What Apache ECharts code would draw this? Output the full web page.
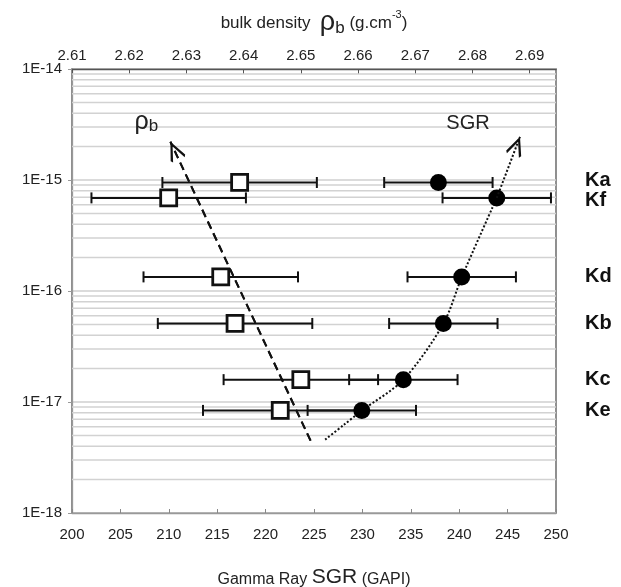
<!DOCTYPE html>
<html>
<head>
<meta charset="utf-8">
<script src="https://cdn.jsdelivr.net/npm/echarts@6.0.0/dist/echarts.min.js"></script>
<style>
html,body{margin:0;padding:0;background:#fff;}
#chart{width:621px;height:587px;}
</style>
</head>
<body>
<div id="chart"></div>
<script>
// ---- data ----
const samples      = ['Ka', 'Kf', 'Kd', 'Kb', 'Kc', 'Ke'];
const permeability = [9.5e-16, 6.9e-16, 1.34e-16, 5.1e-17, 1.59e-17, 8.4e-18];
const sgr          = [237.85, 243.88, 240.26, 238.36, 234.23, 229.94];      // GAPI (filled circles)
const sgrErr       = [5.6, 5.6, 5.6, 5.6, 5.6, 5.6];
const density      = [2.6393, 2.6269, 2.6360, 2.6385, 2.6500, 2.6464];      // g/cm3 (open squares)
const densityErr   = [0.0135, 0.0135, 0.0135, 0.0135, 0.0135, 0.0135];

// hand-drawn trend arrows
const rhoTrend = [[2.6517, 4.49e-18], [2.6272, 2.21e-15]];                  // density, permeability
const sgrTrend = [[226.15, 4.58e-18], [228.04, 6.18e-18], [229.94, 8.36e-18], [234.23, 1.59e-17],
                  [238.36, 5.07e-17], [240.26, 1.33e-16], [243.88, 6.89e-16], [246.28, 2.45e-15]];

// axes
const sgrMin = 200, sgrMax = 250, sgrStep = 5;
const densMin = 2.61, densMax = 2.6946, densStep = 0.01;
const densityTickLabels = ['2.61', '2.62', '2.63', '2.64', '2.65', '2.66', '2.67', '2.68', '2.69'];
const permTickLabels = ['1E-18', '1E-17', '1E-16', '1E-15', '1E-14'];
const permDecades = [1e-18, 1e-17, 1e-16, 1e-15];
const minorMultipliers = [2, 3, 4, 5, 6, 7, 8, 9];

// ---- chart ----
const FONT = 'Liberation Sans, Arial, sans-serif';
const minorVals = [];
permDecades.forEach(d => minorMultipliers.forEach(m => minorVals.push(m * d)));

// open chevron whose tip sits at the symbol centre (tiny dot above balances the box)
const chevron = 'path://M10,-19.2 L10.04,-19.2 L10,-19.16 Z M10,0 L20,17 L18,19.2 L10,5 L2,19.2 L0,17 Z';

function errBar(params, api) {
  const y = api.value(2);
  const a = api.coord([api.value(0), y]);
  const b = api.coord([api.value(1), y]);
  const h = 5.5;
  const st = {stroke: '#111', lineWidth: 2};
  return {type: 'group', children: [
    {type: 'line', shape: {x1: a[0], y1: a[1], x2: b[0], y2: b[1]}, style: st},
    {type: 'line', shape: {x1: a[0], y1: a[1] - h, x2: a[0], y2: a[1] + h}, style: st},
    {type: 'line', shape: {x1: b[0], y1: b[1] - h, x2: b[0], y2: b[1] + h}, style: st}
  ]};
}

const chart = echarts.init(document.getElementById('chart'), null, {renderer: 'canvas'});
chart.setOption({
  animation: false,
  backgroundColor: '#fff',
  textStyle: {fontFamily: FONT},
  grid: {left: 72, right: 65, top: 69, bottom: 74, containLabel: false, outerBoundsMode: 'none',
         show: true, borderColor: '#555', borderWidth: 1.3, backgroundColor: 'transparent'},
  xAxis: [{
    type: 'value', position: 'bottom', min: sgrMin, max: sgrMax, interval: sgrStep,
    axisLine: {show: true, lineStyle: {color: '#999', width: 1.3}},
    axisTick: {show: true, inside: true, length: 4, lineStyle: {color: '#888'}},
    axisLabel: {fontSize: 15, color: '#222', margin: 14, fontFamily: FONT},
    splitLine: {show: false},
    name: '{a|Gamma Ray }{b|SGR}{a| (GAPI)}',
    nameLocation: 'middle', nameGap: 52,
    nameTextStyle: {rich: {
      a: {fontSize: 16, color: '#222', fontFamily: FONT, verticalAlign: 'bottom', lineHeight: 23},
      b: {fontSize: 21, color: '#222', fontFamily: FONT, verticalAlign: 'bottom', lineHeight: 23}
    }}
  }, {
    type: 'value', position: 'top', min: densMin, max: densMax, interval: densStep,
    axisLine: {show: true, lineStyle: {color: '#555', width: 1.3}},
    axisTick: {show: true, inside: true, length: 5, lineStyle: {color: '#555'}},
    axisLabel: {fontSize: 15, color: '#222', margin: 6, fontFamily: FONT, showMaxLabel: false,
      formatter: v => densityTickLabels[Math.round((v - densMin) / densStep)] || ''},
    splitLine: {show: false},
    name: '{a|bulk density  }{r|ρ}{s|b}{a| (g.cm}{p|-3}{a|)}',
    nameLocation: 'middle', nameGap: 32,
    nameTextStyle: {rich: {
      a: {fontSize: 17, color: '#222', fontFamily: FONT, verticalAlign: 'middle', lineHeight: 28},
      r: {fontSize: 27, color: '#222', fontFamily: FONT, verticalAlign: 'middle', lineHeight: 28},
      s: {fontSize: 17, color: '#222', fontFamily: FONT, verticalAlign: 'bottom', lineHeight: 22},
      p: {fontSize: 11, color: '#222', fontFamily: FONT, verticalAlign: 'top', lineHeight: 22}
    }}
  }],
  yAxis: [{
    type: 'log', logBase: 10, min: 1e-18, max: 1e-14, splitNumber: 4,
    axisLine: {show: true, lineStyle: {color: '#999', width: 1.3}},
    axisTick: {show: true, inside: false, length: 4, lineStyle: {color: '#999'}},
    axisLabel: {fontSize: 15, color: '#222', margin: 10, fontFamily: FONT,
      formatter: v => permTickLabels[Math.round(Math.log10(v)) + 18] || ''},
    splitLine: {show: true, lineStyle: {color: '#cfcfcf', width: 1.5}}
  }],
  series: [
    { // minor log grid lines
      type: 'custom', name: 'minorGrid', silent: true, z: 1,
      xAxisIndex: 0, yAxisIndex: 0,
      data: minorVals.map(v => [sgrMin, v]),
      encode: {x: 0, y: 1},
      renderItem: (params, api) => {
        const cs = params.coordSys;
        const y = api.coord([sgrMin, api.value(1)])[1];
        return {type: 'line', shape: {x1: cs.x, y1: y, x2: cs.x + cs.width, y2: y},
                style: {stroke: '#d2d2d2', lineWidth: 1.5}};
      }
    },
    { // rho_b trend (dashed arrow)
      type: 'line', name: 'rhoTrend', xAxisIndex: 1, yAxisIndex: 0, z: 2,
      data: rhoTrend, symbol: 'none', silent: true,
      lineStyle: {color: '#111', width: 2, type: [8, 5]},
      markLine: {
        silent: true, symbol: ['none', chevron], symbolSize: [16, 40],
        label: {show: false},
        lineStyle: {color: '#111', width: 2, type: [8, 5]},
        data: [[{coord: rhoTrend[0]}, {coord: rhoTrend[1]}]]
      },
      markPoint: {
        symbol: 'circle', symbolSize: 1, itemStyle: {color: 'rgba(0,0,0,0)'},
        label: {show: true, formatter: '{r|ρ}{s|b}', offset: [-24, -20],
          rich: {r: {fontSize: 25, color: '#222', fontFamily: FONT, verticalAlign: 'middle', lineHeight: 26},
                 s: {fontSize: 17, color: '#222', fontFamily: FONT, verticalAlign: 'bottom', lineHeight: 22}}},
        data: [{coord: rhoTrend[1]}]
      }
    },
    { // SGR trend (dotted arrow)
      type: 'line', name: 'sgrTrend', xAxisIndex: 0, yAxisIndex: 0, z: 2,
      data: sgrTrend.slice(0, sgrTrend.length - 1), symbol: 'none', smooth: 0.3, silent: true,
      lineStyle: {color: '#111', width: 2, type: [2, 2]},
      markLine: {
        silent: true, symbol: ['none', chevron], symbolSize: [16, 40],
        label: {show: false},
        lineStyle: {color: '#111', width: 2, type: [2, 2]},
        data: [[{coord: sgrTrend[sgrTrend.length - 2]}, {coord: sgrTrend[sgrTrend.length - 1]}]]
      },
      markPoint: {
        symbol: 'circle', symbolSize: 1, itemStyle: {color: 'rgba(0,0,0,0)'},
        label: {show: true, formatter: 'SGR', offset: [-52, -13], fontSize: 20, color: '#222', fontFamily: FONT},
        data: [{coord: sgrTrend[sgrTrend.length - 1]}]
      }
    },
    { // density error bars
      type: 'custom', name: 'densErr', xAxisIndex: 1, yAxisIndex: 0, z: 3, silent: true,
      data: density.map((d, i) => [d - densityErr[i], d + densityErr[i], permeability[i]]),
      encode: {x: [0, 1], y: 2},
      renderItem: errBar
    },
    { // SGR error bars
      type: 'custom', name: 'sgrErr', xAxisIndex: 0, yAxisIndex: 0, z: 3, silent: true,
      data: sgr.map((s, i) => [s - sgrErr[i], s + sgrErr[i], permeability[i]]),
      encode: {x: [0, 1], y: 2},
      renderItem: errBar
    },
    {
      type: 'scatter', name: 'density', xAxisIndex: 1, yAxisIndex: 0, z: 4,
      data: density.map((d, i) => [d, permeability[i]]),
      symbol: 'rect', symbolSize: 16,
      itemStyle: {color: '#fff', borderColor: '#111', borderWidth: 2.8, opacity: 1}
    },
    {
      type: 'scatter', name: 'SGR', xAxisIndex: 0, yAxisIndex: 0, z: 4,
      data: sgr.map((s, i) => [s, permeability[i]]),
      symbol: 'circle', symbolSize: 17,
      itemStyle: {color: '#000', opacity: 1}
    },
    { // sample names on the right
      type: 'custom', name: 'names', xAxisIndex: 0, yAxisIndex: 0, z: 5, silent: true,
      data: samples.map((s, i) => [sgrMax, permeability[i]]),
      encode: {x: 0, y: 1},
      renderItem: (params, api) => {
        const cs = params.coordSys;
        const ys = permeability.map(p => api.coord([sgrMax, p])[1]);
        const order = ys.map((y, i) => i).sort((a, b) => ys[a] - ys[b]);
        const minGap = 20;
        for (let k = 0; k < order.length - 1; k++) {
          const a = order[k], b = order[k + 1];
          const gap = ys[b] - ys[a];
          if (gap < minGap) { const d = (minGap - gap) / 2; ys[a] -= d; ys[b] += d; }
        }
        const i = params.dataIndex;
        return {type: 'text', x: cs.x + cs.width + 29, y: ys[i],
          style: {text: samples[i], fontSize: 20, fontWeight: 'bold', fontFamily: FONT, fill: '#111',
                  align: 'left', verticalAlign: 'middle'}};
      }
    }
  ]
});
</script>
</body>
</html>
